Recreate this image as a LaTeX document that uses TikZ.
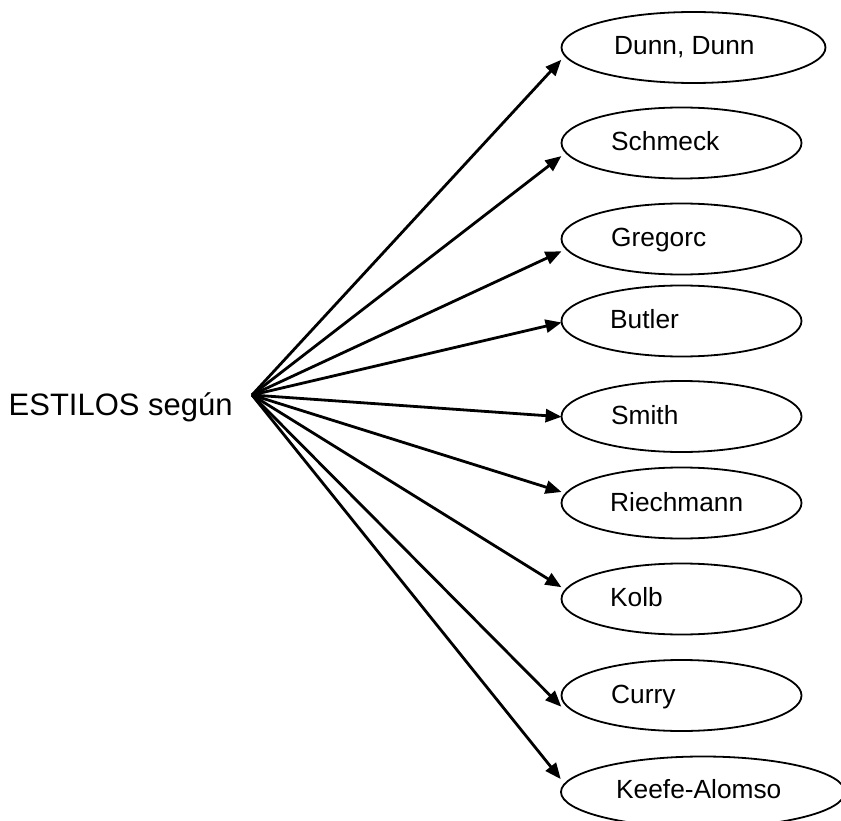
\documentclass[tikz,border=0pt]{standalone}
\usepackage{fontspec}
\setmainfont{Liberation Sans}
\usetikzlibrary{shapes.geometric,arrows.meta}
\begin{document}
\begin{tikzpicture}[x=1pt,y=-1pt,
  oval/.style={draw=black,line width=1.8pt,ellipse,inner sep=0pt,minimum width=240pt,minimum height=71pt},
  lbl/.style={anchor=base west,inner sep=0pt,font=\fontsize{26.3pt}{30pt}\selectfont},
  arr/.style={line width=2.8pt,-{Triangle[length=16pt,width=13pt]},shorten >=-1pt}]
\useasboundingbox (0,0) rectangle (841,821);
\fill[white] (0,0) rectangle (841,821);
% main text
\node[anchor=base west,inner sep=0pt,font=\fontsize{31pt}{36pt}\selectfont] (estilos) at (8.5,415) {ESTILOS según};
\coordinate (src) at (252,395);
% ellipses
\node[oval,minimum width=264pt] (dunn) at (693.5,47.5) {};
\node[oval] (schmeck) at (681.5,143) {};
\node[oval] (gregorc) at (681.5,239) {};
\node[oval] (butler) at (681.5,321) {};
\node[oval] (smith) at (681.5,416.5) {};
\node[oval] (riech) at (681.5,503) {};
\node[oval] (kolb) at (681.5,599) {};
\node[oval] (curry) at (681.5,695.5) {};
\node[oval,minimum width=284pt] (keefe) at (703,792) {};
% labels
\node[lbl] (tdunn) at (614,55) {Dunn, Dunn};
\node[lbl] (tschmeck) at (611,151) {Schmeck};
\node[lbl] (tgregorc) at (611,247) {Gregorc};
\node[lbl] (tbutler) at (610,328) {Butler};
\node[lbl] (tsmith) at (611,424) {Smith};
\node[lbl] (triech) at (610,511) {Riechmann};
\node[lbl] (tkolb) at (610,606) {Kolb};
\node[lbl] (tcurry) at (611,703) {Curry};
\node[lbl] (tkeefe) at (616,798) {Keefe-Alomso};
% arrows
\draw[arr] (src) -- ([yshift=-13pt]dunn.west);
\draw[arr] (src) -- ([yshift=-13.7pt]schmeck.west);
\draw[arr] (src) -- ([yshift=-12.7pt]gregorc.west);
\draw[arr] (src) -- ([yshift=-1.7pt]butler.west);
\draw[arr] (src) -- ([yshift=-0.2pt]smith.west);
\draw[arr] (src) -- ([yshift=11.3pt]riech.west);
\draw[arr] (src) -- ([yshift=12.3pt]kolb.west);
\draw[arr] (src) -- ([yshift=-10.5pt]curry.west);
\draw[arr] (src) -- ([yshift=13.7pt]keefe.west);
\end{tikzpicture}
\end{document}
